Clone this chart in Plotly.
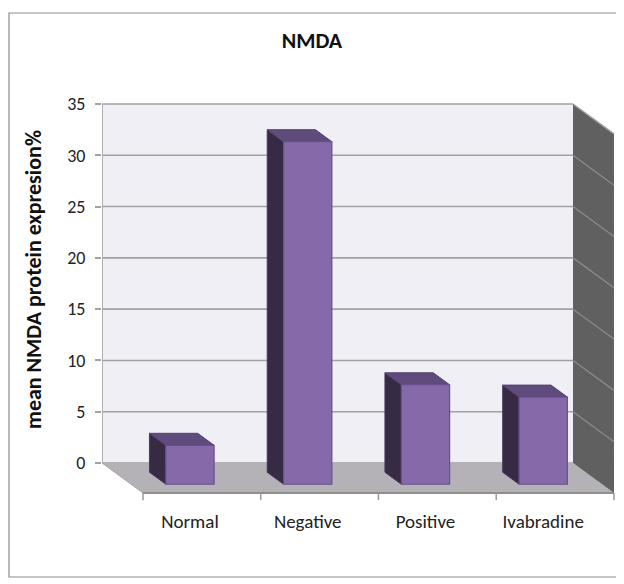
import plotly.graph_objects as go

# ---- data ----
categories = ["Normal", "Negative", "Positive", "Ivabradine"]
values = [3.8, 33.4, 9.7, 8.5]
y_ticks = [0, 5, 10, 15, 20, 25, 30, 35]
title_text = "NMDA"
y_title = "mean NMDA protein expresion%"

# ---- pseudo-3D geometry (oblique projection, in axis units) ----
N = len(categories)
YMAX = y_ticks[-1]
DX = 0.348      # x shift of full floor depth (category units)
DY = -2.92      # y shift of full floor depth (value units)
D_FRONT = 0.71  # bar front depth fraction
D_BACK = 0.31   # bar back depth fraction
BAR_W = 0.41

FONT = "Carlito, Calibri, Lato, sans-serif"

# page has an 8px body margin: figure is placed at (8, 8)
OFF = 8
W, H = 624 - OFF, 584 - OFF
PL, PR, PT, PB = 102 - OFF, 4, 100 - OFF, 584 - 508
PW = W - PL - PR
PH = H - PT - PB
SX = 117.75   # px per category slot
SY = 10.257   # px per value unit


def px2paper_x(px):
    return (px - OFF - PL) / PW


def px2paper_y(py):
    return (PT + PH - (py - OFF)) / PH


def proj(x, v, d):
    return x + d * DX, v + d * DY


def poly(points):
    xs, ys = [], []
    for (x, v, d) in points:
        px, py = proj(x, v, d)
        xs.append(px)
        ys.append(py)
    xs.append(xs[0])
    ys.append(ys[0])
    return xs, ys


fig = go.Figure()


def add_poly(xs, ys, fill, line_color=None, line_width=0):
    fig.add_trace(go.Scatter(
        x=xs, y=ys, mode="lines", fill="toself", fillcolor=fill,
        line=dict(color=line_color or fill, width=line_width),
        hoverinfo="skip", showlegend=False))


def add_line(xs, ys, color, width):
    fig.add_trace(go.Scatter(
        x=xs, y=ys, mode="lines", line=dict(color=color, width=width),
        hoverinfo="skip", showlegend=False))


# back wall
xs, ys = poly([(0, 0, 0), (N, 0, 0), (N, YMAX, 0), (0, YMAX, 0)])
add_poly(xs, ys, "#f0eff5")
# back-wall gridlines
gx, gy = [], []
for t in y_ticks:
    gx += [0, N, None]
    gy += [t, t, None]
add_line(gx, gy, "#a2a2a2", 1.6)
# left wall edge
add_line([0, 0], [0, YMAX], "#a2a2a2", 1.6)

# floor
xs, ys = poly([(0, 0, 0), (N, 0, 0), (N, 0, 1), (0, 0, 1)])
add_poly(xs, ys, "#b4b2b6")
x0, y0 = proj(0, 0, 0)
x1, y1 = proj(0, 0, 1)
add_line([x0, x1], [y0, y1], "#a8a8a8", 1)
xa, ya = proj(0, 0, 1)
xb, yb = proj(N, 0, 1)
add_line([xa, xb], [ya, yb], "#8e8e8e", 2)
# category tick marks on the front edge
tx, ty = [], []
for k in range(N + 1):
    px, py = proj(k, 0, 1)
    tx += [px, px, None]
    ty += [py, py - 0.7, None]
add_line(tx, ty, "#9a9a9a", 1.5)

# right wall
xs, ys = poly([(N, 0, 0), (N, YMAX, 0), (N, YMAX, 1), (N, 0, 1)])
add_poly(xs, ys, "#606060")
rx, ry = [], []
for t in y_ticks[1:-1]:
    p0 = proj(N, t, 0)
    p1 = proj(N, t, 1)
    rx += [p0[0], p1[0], None]
    ry += [p0[1], p1[1], None]
add_line(rx, ry, "#8a8a8a", 1.3)
p0 = proj(N, YMAX, 0)
p1 = proj(N, YMAX, 1)
add_line([p0[0], p1[0]], [p0[1], p1[1]], "#a0a0a0", 1.5)

# bars
sx, sy, tx2, ty2, fx, fy = [], [], [], [], [], []
for i, v in enumerate(values):
    xc = i + 0.5
    a = xc - BAR_W / 2
    b = xc + BAR_W / 2
    xs, ys = poly([(a, 0, D_FRONT), (a, v, D_FRONT), (a, v, D_BACK), (a, 0, D_BACK)])
    sx += xs + [None]
    sy += ys + [None]
    xs, ys = poly([(a, v, D_FRONT), (b, v, D_FRONT), (b, v, D_BACK), (a, v, D_BACK)])
    tx2 += xs + [None]
    ty2 += ys + [None]
    xs, ys = poly([(a, 0, D_FRONT), (b, 0, D_FRONT), (b, v, D_FRONT), (a, v, D_FRONT)])
    fx += xs + [None]
    fy += ys + [None]
add_poly(sx, sy, "#372a45", "#4a3a5e", 1)
add_poly(tx2, ty2, "#5f4b7c", "#54436e", 1)
add_poly(fx, fy, "#8669a8", "#67518a", 1.2)

label_x = [i + 0.5 + D_FRONT * DX for i in range(N)]

x_hi = PW / SX
y_lo = -(PB - (584 - 463 - PB)) / SY if False else (463 - 508) / SY
y_hi = (463 - 100) / SY

fig.update_layout(
    width=W, height=H,
    margin=dict(l=PL, r=PR, t=PT, b=PB),
    paper_bgcolor="white", plot_bgcolor="white",
    showlegend=False,
    font=dict(family=FONT, size=18, color="#222222"),
    title=dict(text="<b>" + title_text + "</b>", x=(312 - OFF) / W, xref="container",
               y=1 - (40 - OFF) / H, yref="container", xanchor="center", yanchor="middle",
               font=dict(family=FONT, size=22, color="#111111")),
    xaxis=dict(range=[0, x_hi], showgrid=False, zeroline=False, showline=False,
               tickmode="array", tickvals=label_x, ticktext=categories, ticks="",
               tickfont=dict(family=FONT, size=19, color="#222222"), fixedrange=True),
    yaxis=dict(range=[y_lo, y_hi], showgrid=False,
               zeroline=False, showline=False, tickmode="array", tickvals=y_ticks,
               ticks="outside", ticklen=6, tickwidth=1.5, tickcolor="#a2a2a2",
               ticklabelstandoff=6,
               tickfont=dict(family=FONT, size=18, color="#222222"), fixedrange=True),
    annotations=[dict(text="<b>" + y_title + "</b>", textangle=-90,
                      xref="paper", yref="paper", x=px2paper_x(33), y=px2paper_y(280),
                      xanchor="center", yanchor="middle", showarrow=False,
                      font=dict(family=FONT, size=22, color="#111111"))],
    shapes=[dict(type="rect", xref="paper", yref="paper",
                 x0=px2paper_x(9), x1=px2paper_x(622),
                 y0=px2paper_y(577), y1=px2paper_y(13),
                 line=dict(color="#8c8c8c", width=1.2), fillcolor="rgba(0,0,0,0)",
                 layer="below")],
)

fig.write_html("out.html")
